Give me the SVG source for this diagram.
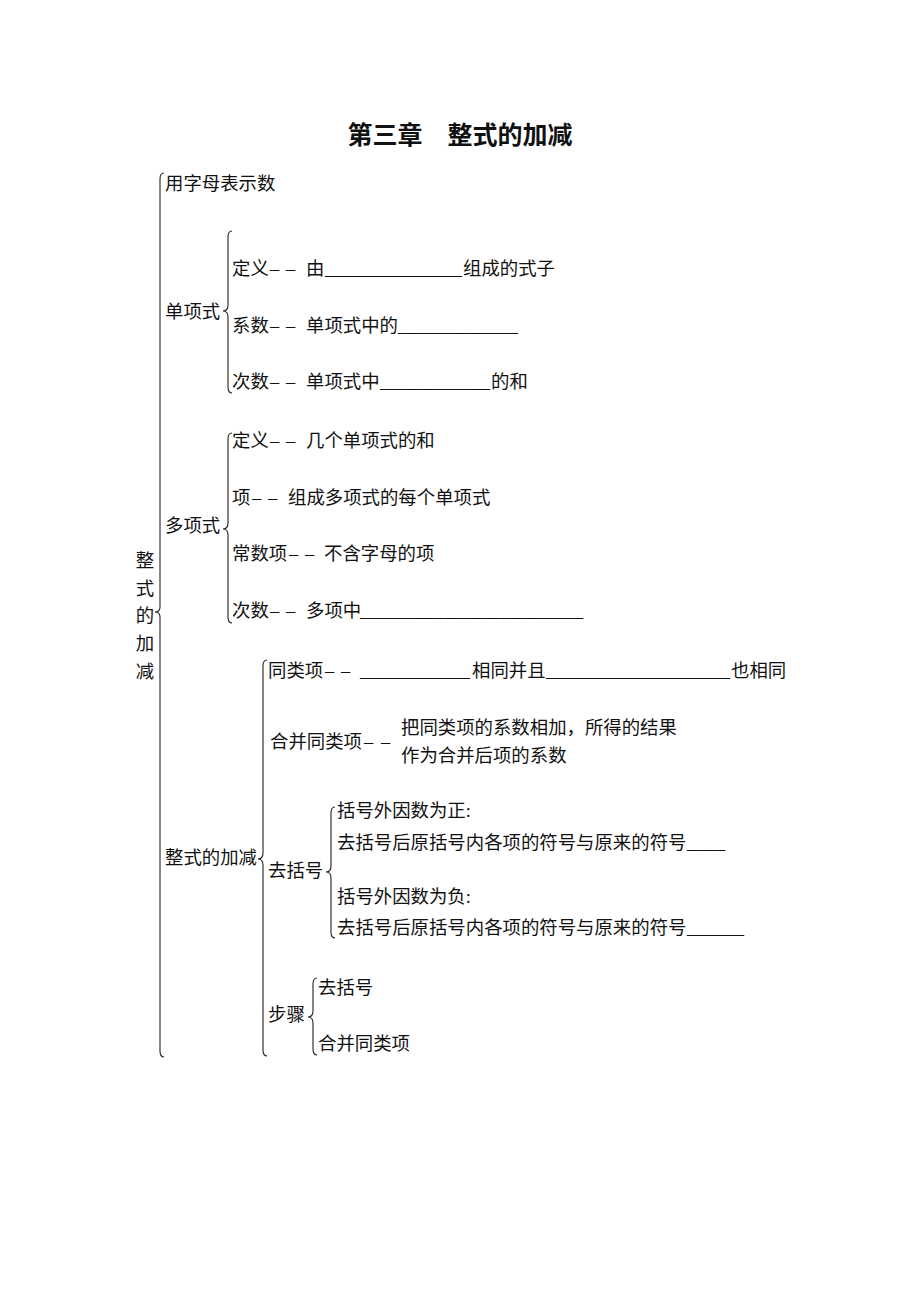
<svg xmlns="http://www.w3.org/2000/svg" width="920" height="1302" viewBox="0 0 920 1302">
<style>
text{font-family:"Liberation Serif","Noto Sans CJK SC",serif;font-size:18.4px;fill:#111;}
.title{font-family:"Liberation Sans","Noto Sans CJK SC",sans-serif;font-size:25px;font-weight:bold;}
.brace{fill:none;stroke:#222;stroke-width:1.1;}
</style>
<rect width="920" height="1302" fill="#fff"/>
<g id="title"><text class="title" x="460" y="144" text-anchor="middle">第三章　整式的加减</text></g>
<g id="braces">
<path class="brace" d="M164,173 Q160,173 160,179 L160,607 Q160,612 155,612 Q160,612 160,617 L160,1051 Q160,1057 164,1057"/>
<path class="brace" d="M232,231 Q228,231 228,237 L228,305 Q228,311 223,311 Q228,311 228,317 L228,387 Q228,393 232,393"/>
<path class="brace" d="M232,433 Q228,433 228,439 L228,523 Q228,529 223,529 Q228,529 228,535 L228,617 Q228,623 232,623"/>
<path class="brace" d="M267,660 Q263,660 263,666 L263,853 Q263,859 258,859 Q263,859 263,865 L263,1050 Q263,1056 267,1056"/>
<path class="brace" d="M335,807 Q331,807 331,813 L331,866 Q331,872 326,872 Q331,872 331,878 L331,932 Q331,938 335,938"/>
<path class="brace" d="M317,978 Q313,978 313,984 L313,1011 Q313,1017 308,1017 Q313,1017 313,1023 L313,1049 Q313,1055 317,1055"/>
</g>
<g id="root">
<text x="145" y="567" text-anchor="middle">整</text>
<text x="145" y="595" text-anchor="middle">式</text>
<text x="145" y="622" text-anchor="middle">的</text>
<text x="145" y="650" text-anchor="middle">加</text>
<text x="145" y="678" text-anchor="middle">减</text>
</g>
<g id="n-letters"><text x="165" y="190">用字母表示数</text></g>
<g id="n-monomial">
<text x="165" y="318">单项式</text>
<text x="232" y="275">定义<tspan x="270">–</tspan><tspan x="286">–</tspan><tspan x="306">由</tspan><tspan x="325" textLength="137" lengthAdjust="spacingAndGlyphs">_______________</tspan><tspan x="463">组成的式子</tspan></text>
<text x="232" y="332">系数<tspan x="270">–</tspan><tspan x="286">–</tspan><tspan x="306">单项式中的</tspan><tspan x="398" textLength="120" lengthAdjust="spacingAndGlyphs">_____________</tspan></text>
<text x="232" y="388">次数<tspan x="270">–</tspan><tspan x="286">–</tspan><tspan x="306">单项式中</tspan><tspan x="380" textLength="110" lengthAdjust="spacingAndGlyphs">____________</tspan><tspan x="491">的和</tspan></text>
</g>
<g id="n-polynomial">
<text x="165" y="532">多项式</text>
<text x="232" y="447">定义<tspan x="270">–</tspan><tspan x="286">–</tspan><tspan x="306">几个单项式的和</tspan></text>
<text x="232" y="504">项<tspan x="252">–</tspan><tspan x="268">–</tspan><tspan x="288">组成多项式的每个单项式</tspan></text>
<text x="232" y="560">常数项<tspan x="289">–</tspan><tspan x="305">–</tspan><tspan x="324">不含字母的项</tspan></text>
<text x="232" y="617">次数<tspan x="270">–</tspan><tspan x="286">–</tspan><tspan x="306">多项中</tspan><tspan x="360" textLength="223" lengthAdjust="spacingAndGlyphs">________________________</tspan></text>
</g>
<g id="n-addsub">
<text x="165" y="864">整式的加减</text>
<text x="268" y="677">同类项<tspan x="325">–</tspan><tspan x="341">–</tspan><tspan x="360" textLength="110" lengthAdjust="spacingAndGlyphs">____________</tspan><tspan x="472">相同并且</tspan><tspan x="546" textLength="184" lengthAdjust="spacingAndGlyphs">____________________</tspan><tspan x="731">也相同</tspan></text>
<text x="270" y="748">合并同类项<tspan x="364">–</tspan><tspan x="381">–</tspan></text>
<text x="401" y="734">把同类项的系数相加，所得的结果</text>
<text x="401" y="762">作为合并后项的系数</text>
</g>
<g id="n-brackets">
<text x="268" y="877">去括号</text>
<text x="337" y="817">括号外因数为正:</text>
<text x="337" y="849">去括号后原括号内各项的符号与原来的符号<tspan x="687" textLength="38" lengthAdjust="spacingAndGlyphs">____</tspan></text>
<text x="337" y="903">括号外因数为负:</text>
<text x="337" y="934">去括号后原括号内各项的符号与原来的符号<tspan x="687" textLength="57" lengthAdjust="spacingAndGlyphs">______</tspan></text>
</g>
<g id="n-steps">
<text x="268" y="1021">步骤</text>
<text x="318" y="994">去括号</text>
<text x="318" y="1050">合并同类项</text>
</g>
</svg>
